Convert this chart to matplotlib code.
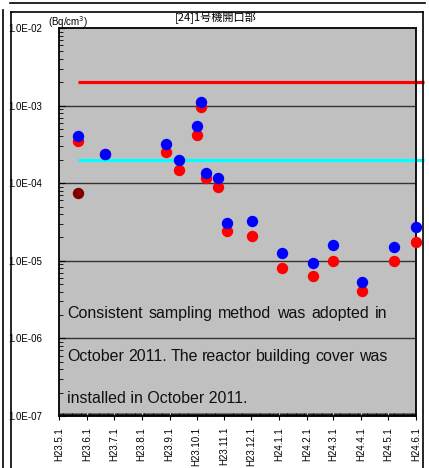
import matplotlib
matplotlib.use("Agg")
import matplotlib.pyplot as plt
import matplotlib.dates as mdates
from matplotlib.lines import Line2D
from matplotlib.ticker import LogLocator, NullFormatter
import numpy as np
from datetime import datetime

# data
sample_dates = ["2011-05-22", "2011-06-21", "2011-08-28", "2011-09-11", "2011-10-02",
                "2011-10-06", "2011-10-11", "2011-10-25", "2011-11-04", "2011-12-02",
                "2012-01-04", "2012-02-07", "2012-03-01", "2012-04-02", "2012-05-08",
                "2012-06-01"]
blue_vals = [4.1e-4, 2.4e-4, 3.2e-4, 2.0e-4, 5.5e-4, 1.1e-3, 1.35e-4, 1.15e-4,
             3.1e-5, 3.3e-5, 1.25e-5, 9.3e-6, 1.6e-5, 5.3e-6, 1.5e-5, 2.7e-5]
red_vals = [3.5e-4, 2.4e-4, 2.5e-4, 1.5e-4, 4.2e-4, 9.5e-4, 1.15e-4, 9.0e-5,
            2.4e-5, 2.1e-5, 8.0e-6, 6.4e-6, 9.8e-6, 4.1e-6, 9.8e-6, 1.75e-5]
darkred_dates = ["2011-05-22"]
darkred_vals = [7.4e-5]

red_limit = 2e-3
cyan_limit = 2e-4
limit_span = ["2011-05-22", "2012-06-10"]

tick_months = ["2011-05-01", "2011-06-01", "2011-07-01", "2011-08-01", "2011-09-01",
               "2011-10-01", "2011-11-01", "2011-12-01", "2012-01-01", "2012-02-01",
               "2012-03-01", "2012-04-01", "2012-05-01", "2012-06-01"]
tick_labels = ["H23.5.1", "H23.6.1", "H23.7.1", "H23.8.1", "H23.9.1", "H23.10.1",
               "H23.11.1", "H23.12.1", "H24.1.1", "H24.2.1", "H24.3.1", "H24.4.1",
               "H24.5.1", "H24.6.1"]
ytick_vals = [1e-7, 1e-6, 1e-5, 1e-4, 1e-3, 1e-2]
ytick_labels = ["1.0E-07", "1.0E-06", "1.0E-05", "1.0E-04", "1.0E-03", "1.0E-02"]

note_lines = ["Consistent sampling method was adopted in",
              "October 2011. The reactor building cover was",
              "installed in October 2011."]

to_dt = lambda s: datetime.strptime(s, "%Y-%m-%d")

plt.rcParams['font.family'] = ['Liberation Sans', 'Noto Sans CJK JP', 'DejaVu Sans']

W, H = 429, 468
fig = plt.figure(figsize=(W / 100, H / 100), dpi=100)
ax = fig.add_axes([59 / W, 1 - 416 / H, (416 - 59) / W, (416 - 28) / H])
ax.set_facecolor("#c0c0c0")
ax.set_yscale("log")
ax.set_ylim(1e-7, 1e-2)
ax.set_xlim(to_dt(tick_months[0]), to_dt(tick_months[-1]))

for v in ytick_vals[1:-1]:
    ax.axhline(v, color="#333333", lw=1.0, zorder=1)

ax.plot([to_dt(d) for d in limit_span], [red_limit, red_limit], color="#ff0000",
        lw=2.3, clip_on=False, zorder=2, solid_capstyle="butt")
ax.plot([to_dt(d) for d in limit_span], [cyan_limit, cyan_limit], color="#00ffff",
        lw=2.3, clip_on=False, zorder=2, solid_capstyle="butt")

dts = [to_dt(d) for d in sample_dates]
ax.plot(dts, red_vals, "o", color="#ff0000", ms=8.2, mew=0, clip_on=False, zorder=3)
ax.plot(dts, blue_vals, "o", color="#0000ff", ms=8.2, mew=0, clip_on=False, zorder=4)
ax.plot([to_dt(d) for d in darkred_dates], darkred_vals, "o", color="#800000",
        ms=8.2, mew=0, clip_on=False, zorder=4)

ax.set_yticks(ytick_vals)
ax.set_yticklabels(ytick_labels, fontsize=7)
ax.yaxis.set_minor_locator(LogLocator(base=10, subs=np.arange(2, 10)))
ax.yaxis.set_minor_formatter(NullFormatter())
ax.tick_params(axis="y", which="major", direction="in", length=4, pad=12)
ax.tick_params(axis="y", which="minor", direction="in", length=3)

ax.set_xticks([to_dt(d) for d in tick_months])
ax.set_xticklabels(tick_labels, rotation=90, fontsize=7, va="top")
ax.xaxis.set_minor_locator(mdates.DayLocator())
ax.tick_params(axis="x", which="major", direction="out", length=3, pad=5)
ax.tick_params(axis="x", which="minor", direction="in", length=2, width=0.6)

for sp in ax.spines.values():
    sp.set_linewidth(1.3)

ax.text(0.44, 1.012, "[24]1号機開口部", transform=ax.transAxes, ha="center",
        va="bottom", fontsize=8, family=['Noto Sans CJK JP', 'DejaVu Sans'])
fig.text(48 / W, 1 - 22 / H, "(Bq/cm$^3$)", fontsize=7, ha="left", va="center")

# note text: first two lines justified between x=67 and x=387 px
renderer = fig.canvas.get_renderer()
x_left, x_right = 67, 387
for i, (txt, ypx) in enumerate(zip(note_lines, [318, 361, 403])):
    kw = dict(fontsize=11.5, ha="left", va="baseline", color="#111111")
    if i == len(note_lines) - 1:
        fig.text(x_left / W, 1 - ypx / H, txt, **kw)
        continue
    words = txt.split(" ")
    arts = [fig.text(0, 1 - ypx / H, w, **kw) for w in words]
    widths = [a.get_window_extent(renderer).width for a in arts]
    gap = (x_right - x_left - sum(widths)) / (len(words) - 1)
    x = x_left
    for a, w in zip(arts, widths):
        a.set_x(x / W)
        x += w + gap

# panel frames
def frame_line(x0, y0, x1, y1):
    fig.add_artist(Line2D([x0 / W, x1 / W], [1 - y0 / H, 1 - y1 / H],
                          color="black", lw=1.2))

frame_line(10, 3, 425, 3)
frame_line(3, 10, 3, 468)
frame_line(11, 12, 423, 12)
frame_line(11, 12, 11, 468)
frame_line(423, 12, 423, 468)

fig.savefig("out.png", dpi=100)
